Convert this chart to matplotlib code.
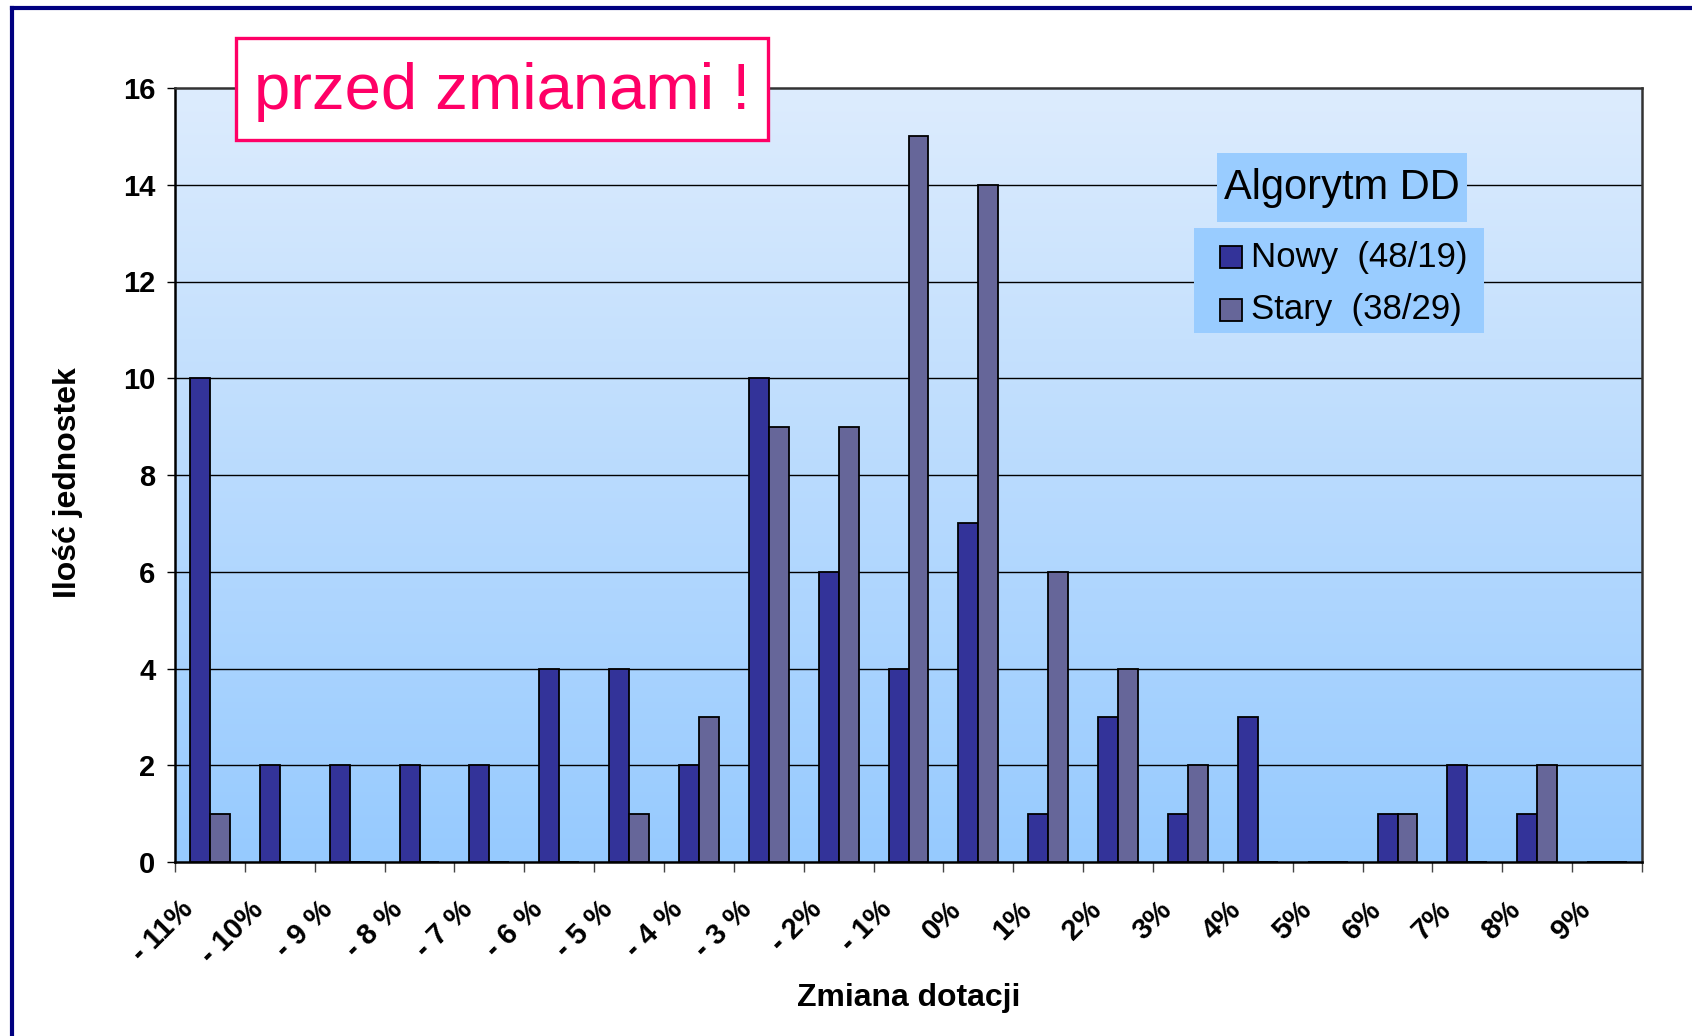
import numpy as np
import matplotlib
matplotlib.use("Agg")
import matplotlib.pyplot as plt
from matplotlib.patches import Rectangle
from matplotlib.lines import Line2D
from matplotlib.transforms import ScaledTranslation

plt.rcParams['font.family'] = ['Liberation Sans', 'DejaVu Sans']

categories = ["- 11%", "- 10%", "- 9 %", "- 8 %", "- 7 %", "- 6 %", "- 5 %", "- 4 %",
              "- 3 %", "- 2%", "- 1%", "0%", "1%", "2%", "3%", "4%", "5%", "6%",
              "7%", "8%", "9%"]
nowy = [10, 2, 2, 2, 2, 4, 4, 2, 10, 6, 4, 7, 1, 3, 1, 3, 0, 1, 2, 1, 0]
stary = [1, 0, 0, 0, 0, 0, 1, 3, 9, 9, 15, 14, 6, 4, 2, 0, 0, 1, 0, 2, 0]
series_labels = ["Nowy  (48/19)", "Stary  (38/29)"]
series_colors = ["#333399", "#666699"]
yticks = [0, 2, 4, 6, 8, 10, 12, 14, 16]

W, H = 1692, 1036
fig = plt.figure(figsize=(W / 100, H / 100), dpi=100)
fig.patch.set_facecolor("white")

def fx(px):
    return px / W

def fy(py):
    return 1 - py / H

ax = fig.add_axes([fx(175), fy(862), fx(1642) - fx(175), fy(88) - fy(862)])

n = len(categories)
x = np.arange(n)

# gradient background
top = np.array([221, 236, 253]) / 255
bot = np.array([150, 202, 255]) / 255
t = np.linspace(0, 1, 256)[:, None]
grad = (top[None, :] * (1 - t) + bot[None, :] * t)[:, None, :]
ax.imshow(grad, extent=[-0.5, n - 0.5, 0, 16], aspect="auto", zorder=0,
          interpolation="bilinear", origin="upper")

for yv in yticks[1:-1]:
    ax.axhline(yv, color="black", lw=1.0, zorder=1)

bw = 0.286
ax.bar(x - bw / 2, nowy, width=bw, color=series_colors[0], edgecolor="black",
       linewidth=1.3, zorder=3)
ax.bar(x + bw / 2, stary, width=bw, color=series_colors[1], edgecolor="black",
       linewidth=1.3, zorder=3)

ax.set_xlim(-0.5, n - 0.5)
ax.set_ylim(0, 16)
ax.set_yticks(yticks)
ax.set_yticklabels([str(v) for v in yticks], fontsize=21, fontweight="bold")
ax.tick_params(axis="y", length=6, width=1, pad=8, direction="out")

ax.set_xticks(np.arange(-0.5, n, 1.0))
ax.set_xticklabels([])
ax.tick_params(axis="x", which="major", length=7, width=1, color="#444444",
               direction="out")
ax.set_xticks(x, minor=True)
ax.set_xticklabels(categories, minor=True, fontsize=21, fontweight="bold",
                   rotation=45, ha="right", va="top")
ax.tick_params(axis="x", which="minor", length=0, pad=24)
off = ScaledTranslation(-11 / 100, 0, fig.dpi_scale_trans)
for lab in ax.get_xticklabels(minor=True):
    lab.set_transform(lab.get_transform() + off)

for side in ["left", "bottom"]:
    ax.spines[side].set_color("black")
    ax.spines[side].set_linewidth(1.8)
for side in ["top", "right"]:
    ax.spines[side].set_color("#333333")
    ax.spines[side].set_linewidth(1.8)

ax.set_xlabel("Zmiana dotacji", fontsize=23, fontweight="bold")
ax.xaxis.set_label_coords(0.5, (862 - 998) / 774)
ax.xaxis.label.set_va("center")
ax.set_ylabel("Ilość jednostek", fontsize=23, fontweight="bold")
ax.yaxis.set_label_coords((68 - 175) / 1467, 0.49)
ax.yaxis.label.set_va("center")

# navy frame lines
fig.add_artist(Line2D([fx(12), fx(12)], [fy(8), 0], color="#000080", lw=3.0,
                      transform=fig.transFigure))
fig.add_artist(Line2D([fx(12), 1], [fy(8), fy(8)], color="#000080", lw=3.0,
                      transform=fig.transFigure))

# title box
fig.add_artist(Rectangle((fx(236), fy(140)), fx(768) - fx(236), fy(38) - fy(140),
                         transform=fig.transFigure, facecolor="white",
                         edgecolor="#FF0066", lw=2.4, zorder=5))
fig.text(fx(502), fy(92), "przed zmianami !", color="#FF0066", fontsize=47,
         ha="center", va="center", zorder=6)

# legend
fig.add_artist(Rectangle((fx(1217), fy(222)), fx(1467) - fx(1217), fy(153) - fy(222),
                         transform=fig.transFigure, facecolor="#99CCFF",
                         edgecolor="none", zorder=5))
fig.text(fx(1342), fy(188), "Algorytm DD", fontsize=30, ha="center", va="center",
         zorder=6)
fig.add_artist(Rectangle((fx(1194), fy(333)), fx(1484) - fx(1194), fy(228) - fy(333),
                         transform=fig.transFigure, facecolor="#99CCFF",
                         edgecolor="none", zorder=5))
rows = [257, 310]
for lab, col, cy in zip(series_labels, series_colors, rows):
    fig.add_artist(Rectangle((fx(1220), fy(cy + 11)), fx(1242) - fx(1220), fy(cy - 11) - fy(cy + 11),
                             transform=fig.transFigure, facecolor=col,
                             edgecolor="black", lw=1.3, zorder=6))
    fig.text(fx(1251), fy(cy), lab, fontsize=25, ha="left", va="center", zorder=6)

fig.savefig("out.png", dpi=100)
